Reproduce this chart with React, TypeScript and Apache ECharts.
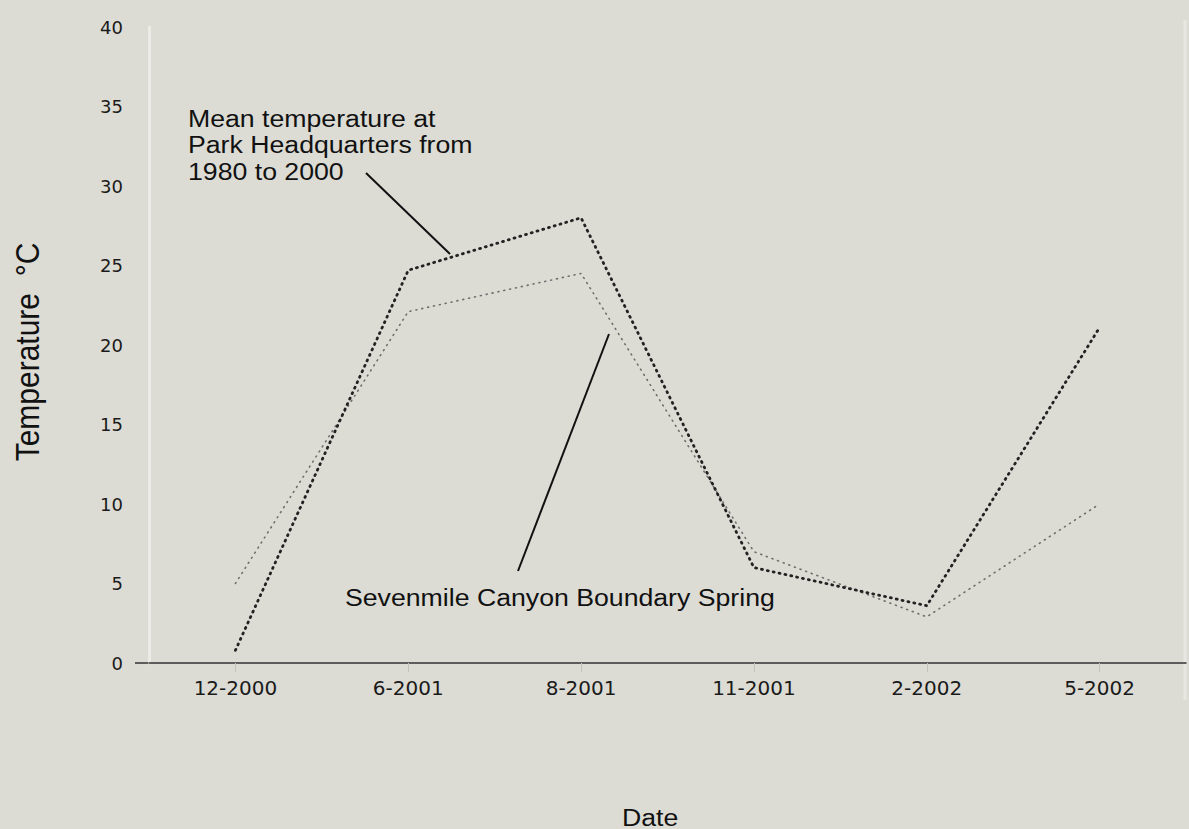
import React, { useEffect, useRef } from "react";
import * as echarts from "echarts";

const categories = ["12-2000", "6-2001", "8-2001", "11-2001", "2-2002", "5-2002"];
const meanHeadquarters = [0.8, 24.7, 28.0, 6.0, 3.6, 21.1];
const sevenmileSpring = [5.0, 22.1, 24.5, 7.0, 2.9, 10.0];
const yMin = 0;
const yMax = 40;
const yStep = 5;

const meanLabel = "Mean temperature at\nPark Headquarters from\n1980 to 2000";
const springLabel = "Sevenmile Canyon Boundary Spring";
const xTitle = "Date";
const yTitle = "Temperature  °C";

const TXT = '"Liberation Sans", Arial, sans-serif';
const STRETCH = 1.16;

export default function App() {
  const ref = useRef<HTMLDivElement>(null);
  useEffect(() => {
    if (!ref.current) return;
    const chart = echarts.init(ref.current, undefined, { renderer: "svg" });
    chart.setOption({
      animation: false,
      backgroundColor: "#dcdcd5",
      grid: { left: 149, right: 3, top: 27, bottom: 166, outerBoundsMode: "none" },
      xAxis: {
        type: "category",
        data: categories,
        boundaryGap: true,
        axisLine: { lineStyle: { color: "#333333", width: 1.5 } },
        axisTick: { show: true, alignWithLabel: true, length: 9, lineStyle: { color: "#c4c4bf", width: 1 } },
        axisLabel: {
          margin: 15,
          color: "#1a1a1a",
          fontSize: 20,
          fontFamily: '"DejaVu Sans", sans-serif',
        },
        splitLine: { show: false },
      },
      yAxis: {
        type: "value",
        min: yMin,
        max: yMax,
        interval: yStep,
        axisLine: { show: true, lineStyle: { color: "#ebebe7", width: 3 } },
        axisTick: { show: false },
        axisLabel: {
          margin: 26,
          color: "#1a1a1a",
          fontSize: 18,
          fontFamily: '"DejaVu Sans", sans-serif',
        },
        splitLine: { show: false },
      },
      series: [
        {
          name: "Mean temperature at Park Headquarters from 1980 to 2000",
          type: "line",
          data: meanHeadquarters,
          symbol: "none",
          lineStyle: { color: "#222222", width: 2.8, type: [1, 5], cap: "round" },
          z: 3,
        },
        {
          name: "Sevenmile Canyon Boundary Spring",
          type: "line",
          data: sevenmileSpring,
          symbol: "none",
          lineStyle: { color: "#6e6e6e", width: 1.6, type: [1, 5], cap: "round" },
          z: 2,
        },
      ],
      graphic: [
        {
          type: "line",
          shape: { x1: 135, y1: 663, x2: 149, y2: 663 },
          style: { stroke: "#333333", lineWidth: 1.5 },
        },
        {
          type: "line",
          shape: { x1: 1185, y1: 20, x2: 1185, y2: 700 },
          style: { stroke: "#e7e7e3", lineWidth: 3 },
        },
        {
          type: "text",
          x: 188,
          y: 105,
          scaleX: STRETCH,
          style: {
            text: meanLabel,
            x: 0,
            y: 0,
            fill: "#111111",
            fontSize: 23,
            fontFamily: TXT,
            lineHeight: 26.5,
            textAlign: "left",
            textVerticalAlign: "top",
          },
        },
        {
          type: "line",
          shape: { x1: 366, y1: 173, x2: 450, y2: 254 },
          style: { stroke: "#111111", lineWidth: 2 },
        },
        {
          type: "text",
          x: 345,
          y: 584,
          scaleX: STRETCH,
          style: {
            text: springLabel,
            x: 0,
            y: 0,
            fill: "#111111",
            fontSize: 23,
            fontFamily: TXT,
            lineHeight: 26.5,
            textAlign: "left",
            textVerticalAlign: "top",
          },
        },
        {
          type: "line",
          shape: { x1: 518, y1: 571, x2: 609, y2: 334 },
          style: { stroke: "#111111", lineWidth: 2 },
        },
        {
          type: "text",
          x: 622,
          y: 806,
          scaleX: STRETCH,
          style: {
            text: xTitle,
            x: 0,
            y: 0,
            fill: "#111111",
            fontSize: 23,
            fontFamily: TXT,
            lineHeight: 23,
            textAlign: "left",
            textVerticalAlign: "top",
          },
        },
        {
          type: "text",
          x: 27,
          y: 352,
          rotation: Math.PI / 2,
          scaleY: 1.1,
          style: {
            text: yTitle,
            x: 0,
            y: 0,
            fill: "#111111",
            fontSize: 30,
            fontFamily: TXT,
            textAlign: "center",
            textVerticalAlign: "middle",
          },
        },
      ],
    });
    return () => chart.dispose();
  }, []);
  return (
    <div
      ref={ref}
      style={{ position: "absolute", left: 0, top: 0, width: 1189, height: 829 }}
    />
  );
}
